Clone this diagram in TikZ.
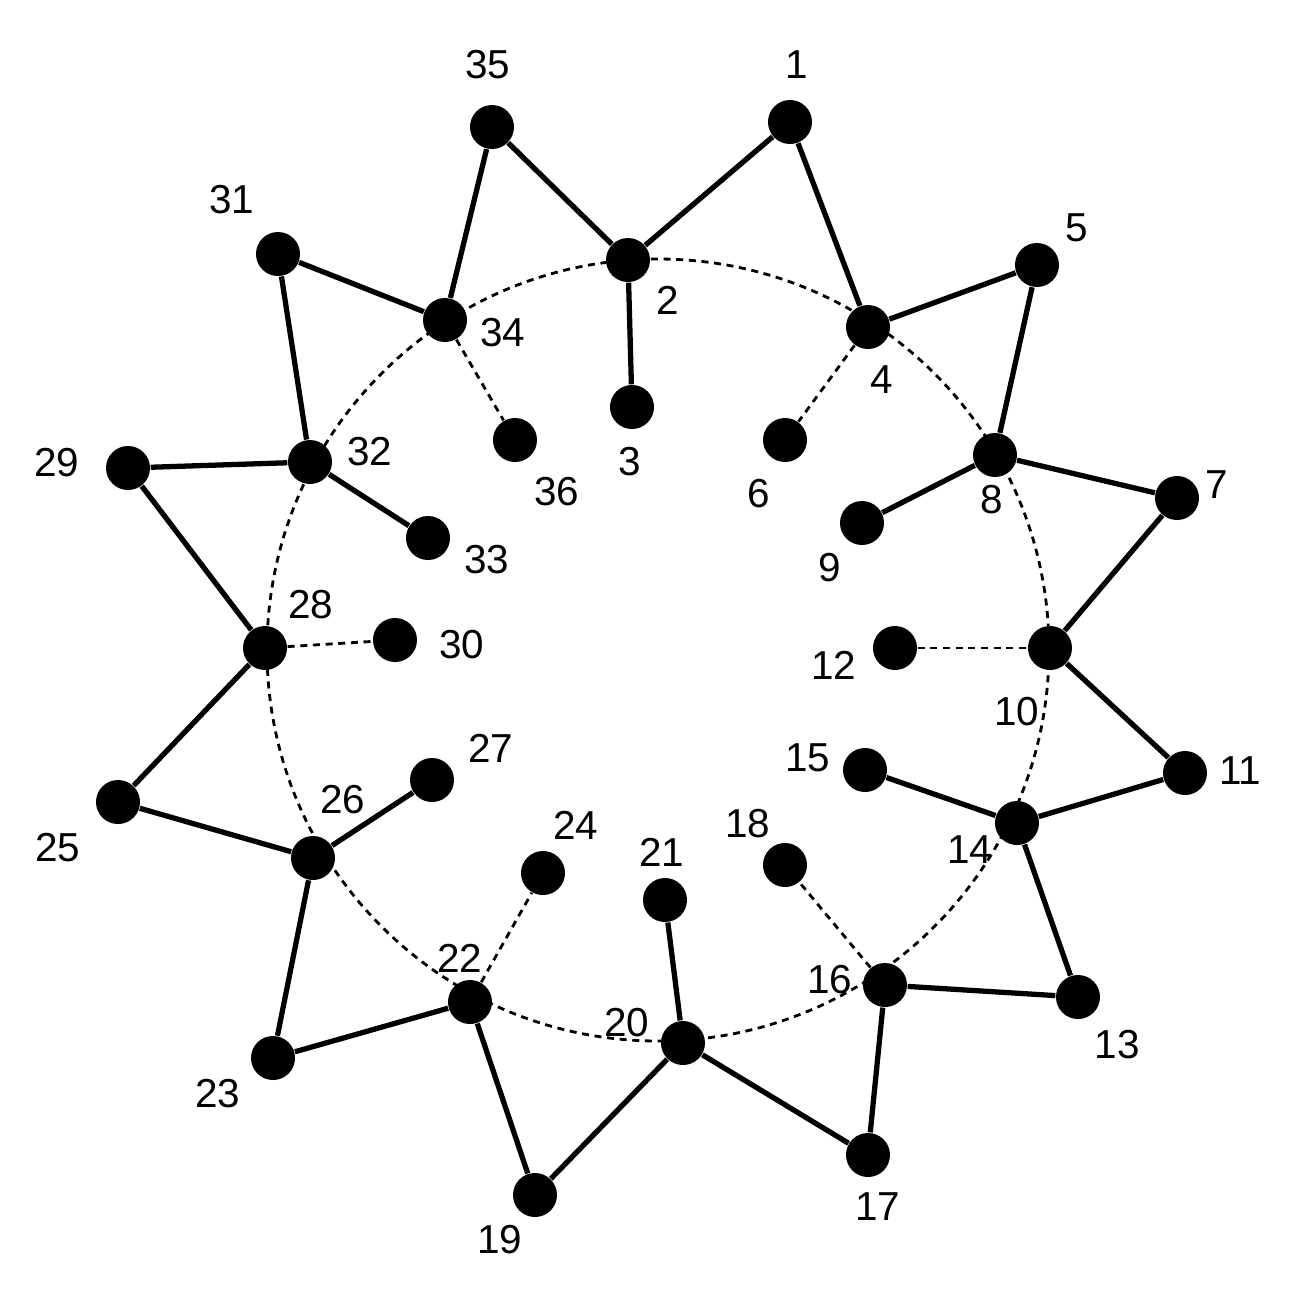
\documentclass[tikz,border=0pt]{standalone}
\usepackage{fontspec}
\setmainfont{Liberation Sans}
\begin{document}
\begin{tikzpicture}[x=0.01cm,y=-0.01cm,
  atom/.style={circle,fill=black,inner sep=0pt,minimum size=0.44cm},
  lab/.style={font=\fontsize{11.5}{13}\selectfont},
  bond/.style={line width=1.5pt},
  hb/.style={line width=0.8pt,dash pattern=on 2pt off 1.6pt}]
\useasboundingbox (0,0) rectangle (1293,1293);
\draw[hb] (658,650) circle[radius=391];
\foreach \n/\x/\y/\lx/\ly in {
1/790/122/797/65, 35/492/127/488/65, 2/628/260/668/300, 31/278/254/232/200,
34/445/320/503/333, 4/868/327/882/380, 5/1037/265/1077/228, 3/632/407/630/462,
36/515/440/557/492, 6/785/440/759/494, 32/310/462/370/452, 29/128/468/57/463,
8/995/455/992/500, 7/1177/498/1217/485, 9/862/523/830/568, 33/428/538/487/560,
28/265/648/311/605, 30/395/640/462/645, 12/895/648/834/665, 10/1050/648/1017/712,
27/432/780/491/748, 15/865/770/808/758, 11/1185/773/1240/771, 25/118/802/58/848,
26/313/858/343/800, 24/543/873/576/825, 21/665/900/662/852, 18/785/865/748/824,
14/1017/823/970/850, 16/885/985/830/980, 13/1078/997/1117/1045, 22/470/1002/460/958,
20/683/1043/627/1023, 23/273/1058/218/1094, 17/868/1155/878/1207, 19/535/1195/500/1240}
{ \node[atom] (a\n) at (\x,\y) {}; \node[lab] (l\n) at (\lx,\ly) {\n}; }
\foreach \a/\b in {1/2,2/35,35/34,34/31,31/32,32/29,32/33,29/28,28/25,25/26,26/27,26/23,
23/22,22/19,19/20,20/21,20/17,17/16,16/13,13/14,14/11,14/15,11/10,10/7,7/8,8/9,8/5,5/4,4/1,2/3}
  \draw[bond] (a\a) -- (a\b);
\foreach \a/\b in {4/6,34/36,28/30,12/10,22/24,16/18}
  \draw[hb] (a\a) -- (a\b);
\end{tikzpicture}
\end{document}
